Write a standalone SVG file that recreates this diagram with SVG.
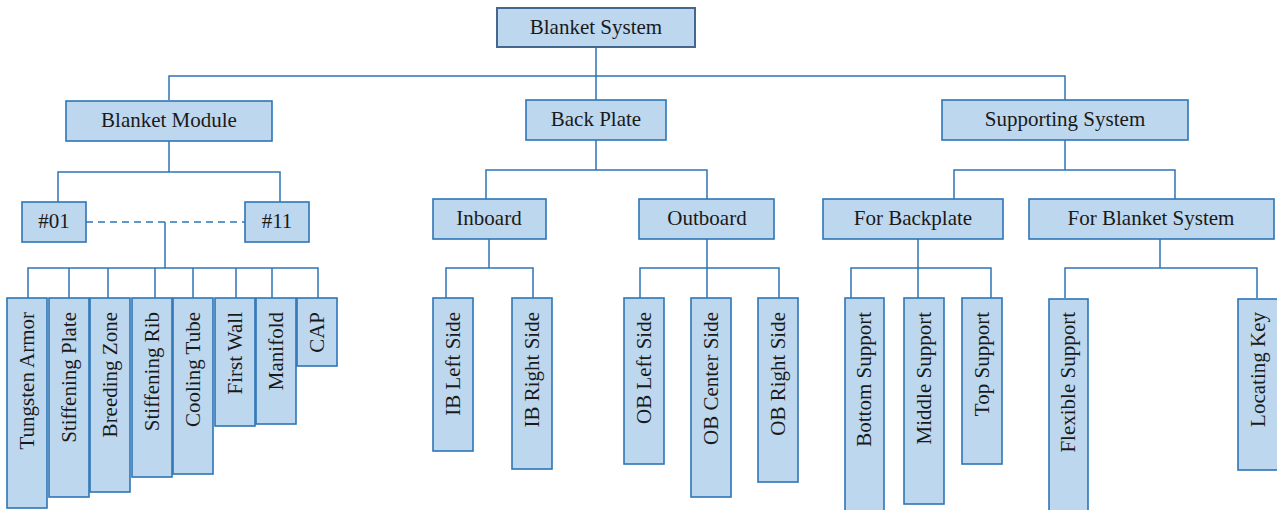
<svg xmlns="http://www.w3.org/2000/svg" width="1277" height="510" viewBox="0 0 1277 510">
<style>
rect{fill:#BDD7EE;stroke:#2E75B6;stroke-width:1.6}
#n-root rect{stroke:#44678E;stroke-width:2}
text{font-family:"Liberation Serif","DejaVu Serif",serif;font-size:21px;fill:#1a1a1a}
.h{text-anchor:middle}
.v{text-anchor:end}
#connectors path{fill:none;stroke:#2E75B6;stroke-width:1.5}
#connectors .dash{stroke-dasharray:7 5}
</style>
<rect x="0" y="0" width="1277" height="510" style="fill:#fff;stroke:none"/>
<g id="connectors">
<path d="M596 47V100M169 100V76H1065V100"/>
<path d="M169 141V172M58 202V172H280V202"/>
<path class="dash" d="M86 222H245"/>
<path d="M165 222V268M28 298V268H318V298M69 268V298M108 268V298M155 268V298M193 268V298M236 268V298M272 268V298"/>
<path d="M596 140V170M486 199V170H707V199"/>
<path d="M489 239V268M446 298V268H533V298"/>
<path d="M707 239V268M640 298V268H779V298M707 268V298"/>
<path d="M1065 140V170M954 199V170H1175V199"/>
<path d="M918 239V268M851 298V268H991V298M918 268V298"/>
<path d="M1160 239V268M1065 298V268H1257V298"/>
</g>
<g id="n-root"><rect x="497" y="8" width="198" height="39"/><text class="h" x="596" y="34">Blanket System</text></g>
<g id="n-module"><rect x="66" y="101" width="206" height="40"/><text class="h" x="169" y="127">Blanket Module</text></g>
<g id="n-backplate"><rect x="526" y="100" width="140" height="40"/><text class="h" x="596" y="126">Back Plate</text></g>
<g id="n-supporting"><rect x="942" y="100" width="246" height="40"/><text class="h" x="1065" y="126">Supporting System</text></g>
<g id="n-01"><rect x="22" y="202" width="64" height="40"/><text class="h" x="54" y="228">#01</text></g>
<g id="n-11"><rect x="245" y="202" width="64" height="40"/><text class="h" x="277" y="228">#11</text></g>
<g id="n-inboard"><rect x="433" y="199" width="113" height="40"/><text class="h" x="489" y="225">Inboard</text></g>
<g id="n-outboard"><rect x="639" y="199" width="135" height="40"/><text class="h" x="707" y="225">Outboard</text></g>
<g id="n-forbackplate"><rect x="823" y="199" width="180" height="40"/><text class="h" x="913" y="225">For Backplate</text></g>
<g id="n-forblanket"><rect x="1029" y="199" width="245" height="40"/><text class="h" x="1151" y="225">For Blanket System</text></g>
<g id="n-tungsten"><rect x="7" y="298" width="40" height="210"/><text class="v" transform="translate(34 312) rotate(-90)">Tungsten Armor</text></g>
<g id="n-stiffplate"><rect x="49" y="298" width="40" height="199"/><text class="v" transform="translate(76 312) rotate(-90)">Stiffening Plate</text></g>
<g id="n-breeding"><rect x="90" y="298" width="40" height="194"/><text class="v" transform="translate(117 312) rotate(-90)">Breeding Zone</text></g>
<g id="n-stiffrib"><rect x="132" y="298" width="40" height="179"/><text class="v" transform="translate(159 312) rotate(-90)">Stiffening Rib</text></g>
<g id="n-cooling"><rect x="173" y="298" width="40" height="176"/><text class="v" transform="translate(200 312) rotate(-90)">Cooling Tube</text></g>
<g id="n-firstwall"><rect x="215" y="298" width="40" height="128"/><text class="v" transform="translate(242 312) rotate(-90)">First Wall</text></g>
<g id="n-manifold"><rect x="256" y="298" width="40" height="126"/><text class="v" transform="translate(283 312) rotate(-90)">Manifold</text></g>
<g id="n-cap"><rect x="297" y="298" width="40" height="68"/><text class="v" transform="translate(324 312) rotate(-90)">CAP</text></g>
<g id="n-ibleft"><rect x="433" y="298" width="40" height="153"/><text class="v" transform="translate(460 312) rotate(-90)">IB Left Side</text></g>
<g id="n-ibright"><rect x="512" y="298" width="40" height="171"/><text class="v" transform="translate(539 312) rotate(-90)">IB Right Side</text></g>
<g id="n-obleft"><rect x="624" y="298" width="40" height="166"/><text class="v" transform="translate(651 312) rotate(-90)">OB Left Side</text></g>
<g id="n-obcenter"><rect x="691" y="298" width="40" height="199"/><text class="v" transform="translate(718 312) rotate(-90)">OB Center Side</text></g>
<g id="n-obright"><rect x="758" y="298" width="40" height="184"/><text class="v" transform="translate(785 312) rotate(-90)">OB Right Side</text></g>
<g id="n-bottom"><rect x="845" y="298" width="39" height="214"/><text class="v" transform="translate(871 312) rotate(-90)">Bottom Support</text></g>
<g id="n-middle"><rect x="904" y="298" width="40" height="206"/><text class="v" transform="translate(931 312) rotate(-90)">Middle Support</text></g>
<g id="n-top"><rect x="962" y="298" width="40" height="166"/><text class="v" transform="translate(989 312) rotate(-90)">Top Support</text></g>
<g id="n-flexible"><rect x="1049" y="299" width="39" height="214"/><text class="v" transform="translate(1075 312) rotate(-90)">Flexible Support</text></g>
<g id="n-locating"><rect x="1238" y="299" width="42" height="171"/><text class="v" transform="translate(1265 312) rotate(-90)">Locating Key</text></g>
</svg>
